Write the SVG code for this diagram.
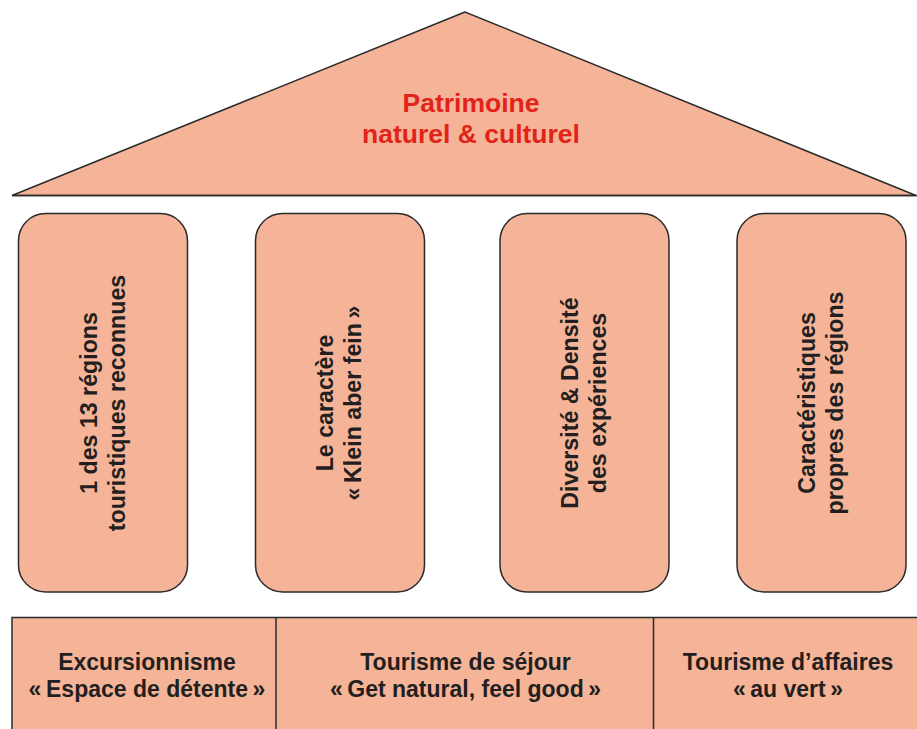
<svg xmlns="http://www.w3.org/2000/svg" width="917" height="729" viewBox="0 0 917 729">
<style>
.shape{fill:#f5b497;stroke:#2b2b2b;stroke-width:1.5}
.t{font-family:"Liberation Sans",Arial,Helvetica,sans-serif;font-weight:bold;fill:#231f20;text-anchor:middle}
.p{font-size:23.2px}
.b{font-size:23px}
.title{font-size:26.5px;fill:#e2231a}
.div{stroke:#2b2b2b;stroke-width:1.5;fill:none}
</style>
<rect width="917" height="729" fill="#ffffff"/>
<g id="roof">
<polygon class="shape" points="465,12 12,195.5 916,195.5"/>
<line class="div" x1="12" y1="195.5" x2="917" y2="195.5" stroke-width="2"/>
<text class="t title" x="471" y="112">Patrimoine</text>
<text class="t title" x="471" y="143">naturel &amp; culturel</text>
</g>
<g id="pillar1">
<rect class="shape" x="18.5" y="213.5" width="169" height="378.5" rx="27" ry="27"/>
<g transform="translate(103,403) rotate(-90)">
<text class="t p" x="0" y="-6.5">1 des 13 régions</text>
<text class="t p" x="0" y="21.5">touristiques reconnues</text>
</g>
</g>
<g id="pillar2">
<rect class="shape" x="255.5" y="213.5" width="169" height="378.5" rx="27" ry="27"/>
<g transform="translate(340,403) rotate(-90)">
<text class="t p" x="0" y="-7">Le caractère</text>
<text class="t p" x="0" y="21">«&#8201;Klein aber fein&#8201;»</text>
</g>
</g>
<g id="pillar3">
<rect class="shape" x="500" y="213.5" width="169" height="378.5" rx="27" ry="27"/>
<g transform="translate(584.5,403) rotate(-90)">
<text class="t p" x="0" y="-7">Diversité &amp; Densité</text>
<text class="t p" x="0" y="21">des expériences</text>
</g>
</g>
<g id="pillar4">
<rect class="shape" x="737" y="213.5" width="169" height="378.5" rx="27" ry="27"/>
<g transform="translate(821.5,403) rotate(-90)">
<text class="t p" x="0" y="-7">Caractéristiques</text>
<text class="t p" x="0" y="21">propres des régions</text>
</g>
</g>
<g id="base">
<rect class="shape" x="12" y="617.5" width="910" height="120"/>
</g>
<g id="connectors">
<line class="div" x1="276" y1="617.5" x2="276" y2="729"/>
<line class="div" x1="653.5" y1="617.5" x2="653.5" y2="729"/>
</g>
<g id="cell1">
<text class="t b" x="147" y="670">Excursionnisme</text>
<text class="t b" x="147" y="697">«&#8201;Espace de détente&#8201;»</text>
</g>
<g id="cell2">
<text class="t b" x="465.5" y="670">Tourisme de séjour</text>
<text class="t b" x="465.5" y="697">«&#8201;Get natural, feel good&#8201;»</text>
</g>
<g id="cell3">
<text class="t b" x="788" y="670">Tourisme d’affaires</text>
<text class="t b" x="788" y="697">«&#8201;au vert&#8201;»</text>
</g>
</svg>
